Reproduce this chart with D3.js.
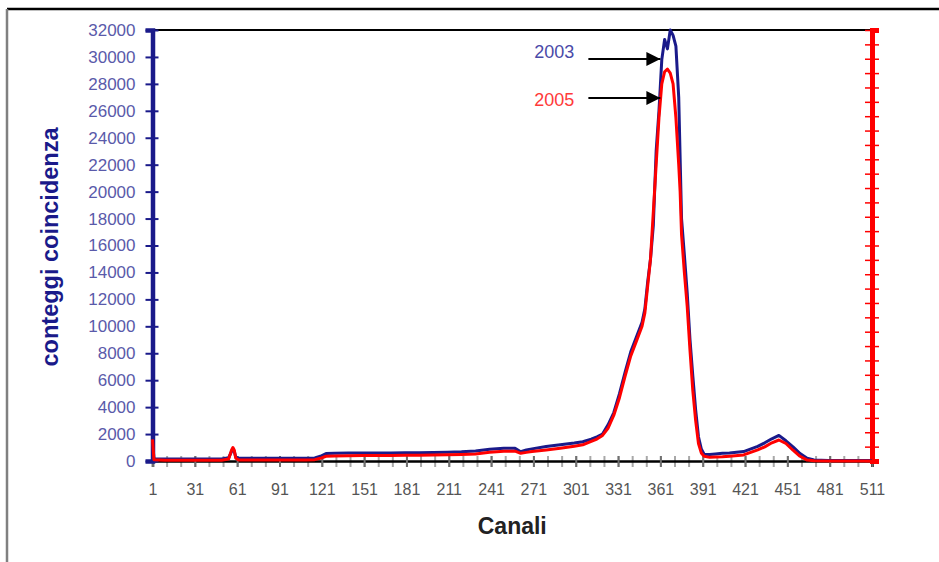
<!DOCTYPE html>
<html>
<head>
<meta charset="utf-8">
<script src="https://cdn.jsdelivr.net/npm/d3@7"></script>
<style>
    body { margin: 0; background: #fff; }
    svg { display: block; font-family: "Liberation Sans", Arial, sans-serif; }
</style>
</head>
<body>
<div id="chart"></div>
<script>
// Channels
const channels = [
    1, 2, 10, 20, 30, 40, 50, 55, 57, 58, 59, 60, 62, 70, 80, 90, 100, 110, 116, 120,
    124, 130, 140, 150, 160, 170, 180, 190, 200, 210, 220, 230, 240, 250, 258, 262,
    266, 270, 280, 290, 300, 306, 312, 316, 320, 324, 328, 332, 336, 340, 344, 348,
    350, 352, 354, 356, 358, 360, 362, 364, 366, 368, 370, 372, 374, 375, 376, 378,
    380, 382, 384, 386, 388, 390, 392, 396, 400, 405, 410, 420, 430, 435, 440, 445,
    450, 455, 460, 465, 470, 480, 490, 500, 511,
];

// Coincidence counts, 2003
const counts2003 = [
    1800, 150, 150, 150, 150, 150, 150, 250, 700, 900, 700, 300, 200, 200, 200, 200, 200, 200, 220, 350,
    550, 580, 590, 600, 600, 600, 620, 620, 640, 650, 680, 740, 880, 940, 940, 690,
    820, 900, 1080, 1200, 1330, 1430, 1620, 1800, 2000, 2700, 3600, 5000, 6600, 8100, 9200, 10300,
    11300, 13300, 15000, 17500, 23000, 26000, 29800, 31300, 30600, 32000, 31600, 30800, 27000, 22500, 18000, 15300,
    12500, 9000, 6300, 3800, 1800, 900, 500, 480, 520, 570, 600, 700, 1080, 1350, 1650, 1900,
    1500, 1050, 550, 200, 80, 40, 30, 30, 30,
];

// Coincidence counts, 2005
const counts2005 = [
    1600, 100, 60, 60, 60, 60, 60, 150, 800, 1000, 800, 200, 80, 80, 80, 80, 80, 80, 100, 200,
    350, 380, 390, 400, 400, 400, 420, 430, 440, 460, 480, 520, 650, 720, 730, 570,
    640, 700, 820, 950, 1100, 1200, 1450, 1630, 1900, 2450, 3400, 4700, 6300, 7800, 8900, 10000,
    11000, 13000, 15000, 18500, 22000, 25500, 28000, 28900, 29100, 28800, 28000, 25500, 22000, 20000, 16800, 14000,
    11500, 8200, 5200, 3000, 1300, 600, 350, 270, 300, 320, 360, 450, 820, 1050, 1350, 1560,
    1300, 800, 350, 70, 10, 0, 0, 0, 0,
];

const xTickLabels = [1, 31, 61, 91, 121, 151, 181, 211, 241, 271, 301, 331, 361, 391, 421, 451, 481, 511];
const yTickValues = [0, 2000, 4000, 6000, 8000, 10000, 12000, 14000, 16000, 18000, 20000, 22000, 24000, 26000, 28000, 30000, 32000];

// Arrow annotations
const annotLabels = ["2003", "2005"];
const annotChannel = 361;
const annotValues = [29850, 26950];

const width = 939;
const height = 562;
const navy = "#1a1a8a";
const red = "#ff0000";

const svg = d3.select("#chart")
    .append("svg")
    .attr("width", width)
    .attr("height", height);

// Outer frame
svg.append("line").attr("x1", 7).attr("x2", width).attr("y1", 9).attr("y2", 9)
    .attr("stroke", "#000").attr("stroke-width", 2.5);
svg.append("line").attr("x1", 7).attr("x2", 7).attr("y1", 9).attr("y2", height)
    .attr("stroke", "#808080").attr("stroke-width", 2.5);

const x = d3.scaleLinear().domain([1, 511]).range([152.5, 872]);
const y = d3.scaleLinear().domain([0, 32000]).range([461, 30]);
const y2 = d3.scaleLinear().domain([0, 30]).range([461, 30]);

// Plot top border
svg.append("line").attr("x1", x(1)).attr("x2", x(511)).attr("y1", y(32000)).attr("y2", y(32000))
    .attr("stroke", "#000").attr("stroke-width", 2);

// X axis: minor ticks every 10 channels
const minorTicks = d3.range(1, 512, 10);
const xMinor = svg.append("g")
    .attr("transform", `translate(0,${y(0)})`)
    .call(d3.axisBottom(x).tickValues(minorTicks).tickSize(6).tickFormat(""));
xMinor.select(".domain").remove();
xMinor.selectAll(".tick line").attr("y1", -5).attr("stroke", "#a8a8a8").attr("stroke-width", 2);

// X axis: labelled ticks
const xAxis = svg.append("g")
    .attr("transform", `translate(0,${y(0)})`)
    .call(d3.axisBottom(x).tickValues(xTickLabels).tickSize(6).tickPadding(17).tickFormat(d3.format("d")));
xAxis.select(".domain").attr("stroke", "#000").attr("stroke-width", 2.5);
xAxis.selectAll(".tick line").attr("y1", -5).attr("stroke", "#707070").attr("stroke-width", 2);
xAxis.selectAll(".tick text")
    .attr("fill", "#555")
    .style("font-size", "16px");

// Left axis (2003)
const yAxis = svg.append("g")
    .attr("transform", `translate(${x(1)},0)`)
    .call(d3.axisLeft(y).tickValues(yTickValues).tickSize(7).tickPadding(10).tickFormat(d3.format("d")));
yAxis.select(".domain").attr("stroke", navy).attr("stroke-width", 4.5);
yAxis.selectAll(".tick line").attr("x1", 6).attr("stroke", navy).attr("stroke-width", 2);
yAxis.selectAll(".tick text")
    .attr("fill", "#5a5aaa")
    .style("font-size", "17px");

// Right axis (2005), unlabelled
const yAxis2 = svg.append("g")
    .attr("transform", `translate(${x(511)},0)`)
    .call(d3.axisRight(y2).ticks(30).tickSize(7).tickFormat(""));
yAxis2.select(".domain").attr("stroke", red).attr("stroke-width", 5);
yAxis2.selectAll(".tick line").attr("x1", -7).attr("stroke", red).attr("stroke-width", 1.5);

// Series
const line2003 = d3.line()
    .x((d, i) => x(channels[i]))
    .y((d) => y(d));

svg.append("path")
    .datum(counts2003)
    .attr("d", line2003)
    .attr("fill", "none")
    .attr("stroke", navy)
    .attr("stroke-width", 3)
    .attr("stroke-linejoin", "round");

svg.append("path")
    .datum(counts2005)
    .attr("d", line2003)
    .attr("fill", "none")
    .attr("stroke", red)
    .attr("stroke-width", 3)
    .attr("stroke-linejoin", "round");

// Annotations with arrows
svg.append("defs").append("marker")
    .attr("id", "arrow")
    .attr("viewBox", "0 0 10 10")
    .attr("refX", 10)
    .attr("refY", 5)
    .attr("markerWidth", 16)
    .attr("markerHeight", 14)
    .attr("markerUnits", "userSpaceOnUse")
    .attr("orient", "auto")
    .append("path")
    .attr("d", "M0,0 L10,5 L0,10 Z")
    .attr("fill", "#000");

annotLabels.forEach((label, i) => {
    const tipX = x(annotChannel);
    const tipY = y(annotValues[i]);
    svg.append("line")
        .attr("x1", tipX - 72)
        .attr("x2", tipX)
        .attr("y1", tipY)
        .attr("y2", tipY)
        .attr("stroke", "#000")
        .attr("stroke-width", 2)
        .attr("marker-end", "url(#arrow)");
    svg.append("text")
        .attr("x", tipX - 86)
        .attr("y", i === 0 ? tipY - 1 : tipY + 8)
        .attr("text-anchor", "end")
        .attr("fill", i === 0 ? "#4a4aa8" : "#ff3a3a")
        .style("font-size", "18px")
        .text(label);
});

// Axis titles
svg.append("text")
    .attr("x", x(256))
    .attr("y", 534)
    .attr("text-anchor", "middle")
    .attr("fill", "#222")
    .style("font-size", "23px")
    .style("font-weight", "bold")
    .text("Canali");

svg.append("text")
    .attr("transform", "translate(58,247) rotate(-90)")
    .attr("text-anchor", "middle")
    .attr("fill", navy)
    .style("font-size", "23.5px")
    .style("font-weight", "bold")
    .text("conteggi coincidenza");
</script>
</body>
</html>
